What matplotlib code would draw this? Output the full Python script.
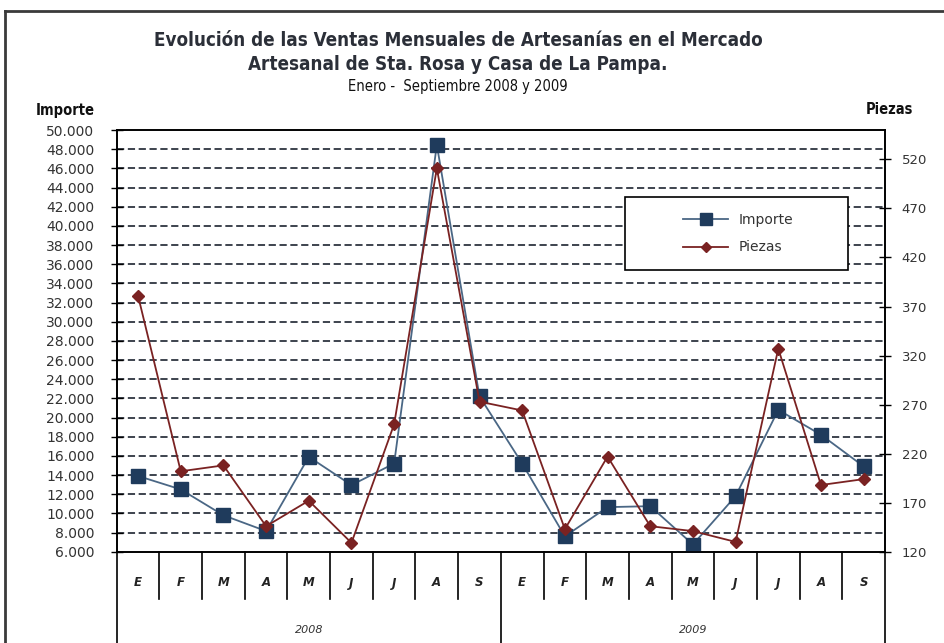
import matplotlib
matplotlib.use("Agg")
import matplotlib.pyplot as plt
from matplotlib.patches import Rectangle
from matplotlib.lines import Line2D
import matplotlib.transforms as mtransforms

# ---------------- data ----------------
months = ["E", "F", "M", "A", "M", "J", "J", "A", "S"]
years = ["2008", "2009"]
importe_2008 = [13900, 12500, 9800, 8150, 15900, 12950, 15200, 48450, 22200]
importe_2009 = [15200, 7600, 10650, 10750, 6750, 11800, 20800, 18200, 14900]
piezas_2008 = [381, 202, 208, 146, 172, 129, 250, 511, 273]
piezas_2009 = [264, 143, 217, 146, 141, 130, 327, 188, 194]
left_ticks = list(range(6000, 50001, 2000))
right_ticks = list(range(120, 521, 50))
title_lines = ["Evolución de las Ventas Mensuales de Artesanías en el Mercado",
               "Artesanal de Sta. Rosa y Casa de La Pampa.",
               "Enero -  Septiembre 2008 y 2009"]

importe = importe_2008 + importe_2009
piezas = piezas_2008 + piezas_2009
n = len(importe)
xs = list(range(n))

COL_IMP_LINE = "#4a6785"
COL_IMP_MK = "#1f3b5c"
COL_PZ = "#7a2222"
TCOL = "#2b2f38"

fig = plt.figure(figsize=(9.45, 6.43), dpi=100)
fig.patch.set_facecolor("white")

W, H = 945.0, 643.0
L, R, T, B = 116.7, 885.0, 130.0, 551.7
ax = fig.add_axes([L / W, 1 - B / H, (R - L) / W, (B - T) / H])
ax2 = ax.twinx()

# outer frame
fig.add_artist(Line2D([5 / W, 1.0], [1 - 11 / H, 1 - 11 / H], transform=fig.transFigure,
                      color="#3a3a3a", lw=2))
fig.add_artist(Line2D([5 / W, 5 / W], [1 - 11 / H, 0], transform=fig.transFigure,
                      color="#3a3a3a", lw=2))

# gridlines
for v in left_ticks[1:-1]:
    ax.axhline(v, color="#2e3540", lw=1.3, ls=(0, (4, 2)), zorder=1)

ax.plot(xs, importe, color=COL_IMP_LINE, lw=1.3, marker="s", ms=10,
        mfc=COL_IMP_MK, mec=COL_IMP_MK, zorder=3, label="Importe")
ax2.plot(xs, piezas, color=COL_PZ, lw=1.3, marker="D", ms=6.5,
         mfc=COL_PZ, mec=COL_PZ, zorder=3, label="Piezas")

ax.set_xlim(-0.5, n - 0.5)
ax.set_ylim(6000, 50000)
ax2.set_ylim(120, 550)

ax.set_yticks(left_ticks)
ax.set_yticklabels([f"{v:,}".replace(",", ".") for v in left_ticks])
ax2.set_yticks(right_ticks)
ax2.set_yticklabels([str(v) for v in right_ticks])
ax.set_xticks([])

for a in (ax, ax2):
    for s in a.spines.values():
        s.set_color("black")
        s.set_linewidth(1.2)
ax.tick_params(axis="y", direction="inout", length=8, width=1, labelsize=10,
               colors="black", pad=12)
ax.tick_params(axis="y", labelcolor="#333333")
ax2.tick_params(axis="y", direction="inout", length=8, width=1, labelsize=9.5,
                colors="black", labelcolor="#333333", pad=8)
for lab in ax.get_yticklabels() + ax2.get_yticklabels():
    lab.set_fontfamily("DejaVu Sans")

# two-level category axis
tr = mtransforms.blended_transform_factory(ax.transData, ax.transAxes)
month_bottom = -(599 - B) / (B - T)
year_bottom = -(660 - B) / (B - T)
for i in range(n + 1):
    xb = i - 0.5
    y1 = year_bottom if i % len(months) == 0 else month_bottom
    ax.add_line(Line2D([xb, xb], [0, y1], transform=tr, color="black", lw=1.2,
                       clip_on=False))
for i in range(n):
    ax.text(i, -(583 - B) / (B - T), months[i % len(months)], transform=tr,
            ha="center", va="center", fontsize=8.5, fontstyle="italic",
            fontweight="bold", color="#222222")
for k, yr in enumerate(years):
    cx = k * len(months) + (len(months) - 1) / 2
    ax.text(cx, -(630 - B) / (B - T), yr, transform=tr, ha="center", va="center",
            fontsize=8, fontstyle="italic", color="#333333")

# titles
fig.text(458 / W, 1 - 41 / H, title_lines[0], ha="center", va="center",
         fontsize=13.5, fontweight="bold", family="DejaVu Sans",
         fontstretch="condensed", color=TCOL)
fig.text(458 / W, 1 - 64 / H, title_lines[1], ha="center", va="center",
         fontsize=13.5, fontweight="bold", family="DejaVu Sans",
         fontstretch="condensed", color=TCOL)
fig.text(458 / W, 1 - 87 / H, title_lines[2], ha="center", va="center",
         fontsize=10.5, family="DejaVu Sans", fontstretch="condensed", color="#111111")
fig.text(65 / W, 1 - 110 / H, "Importe", ha="center", va="center",
         fontsize=10.5, fontweight="bold", family="DejaVu Sans",
         fontstretch="condensed", color="#111111")
fig.text(889 / W, 1 - 110 / H, "Piezas", ha="center", va="center",
         fontsize=10.5, fontweight="bold", family="DejaVu Sans",
         fontstretch="condensed", color="#111111")

# legend
lx0, lx1, ly0, ly1 = 625, 848, 197, 270
box = Rectangle(((lx0 - L) / (R - L), (B - ly1) / (B - T)), (lx1 - lx0) / (R - L),
                (ly1 - ly0) / (B - T), transform=ax2.transAxes, facecolor="white",
                edgecolor="black", lw=1.2, zorder=5)
ax2.add_patch(box)
h = [Line2D([], [], color=COL_IMP_LINE, lw=1.3, marker="s", ms=8, mfc=COL_IMP_MK,
            mec=COL_IMP_MK),
     Line2D([], [], color=COL_PZ, lw=1.3, marker="D", ms=5, mfc=COL_PZ, mec=COL_PZ)]
leg = ax2.legend(h, ["Importe", "Piezas"], loc="center",
                 bbox_to_anchor=(((lx0 + lx1) / 2 + 2 - L) / (R - L),
                                 (B - (ly0 + ly1) / 2) / (B - T)),
                 frameon=False, handlelength=3.2, labelspacing=1.0,
                 prop={"family": "DejaVu Sans", "size": 10})
for t in leg.get_texts():
    t.set_color("#333333")
leg.set_zorder(6)

fig.savefig("out.png", dpi=100, facecolor="white")
